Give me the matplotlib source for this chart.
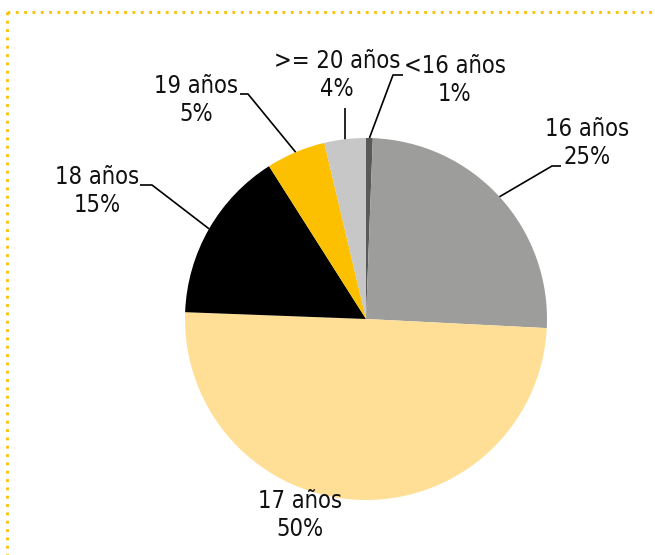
import matplotlib
matplotlib.use("Agg")
import matplotlib.pyplot as plt
import numpy as np

# slices, clockwise from 12 o'clock
labels = ["<16 años", "16 años", "17 años", "18 años", "19 años", ">= 20 años"]
shares = [0.6, 25.2, 49.8, 15.4, 5.3, 3.7]
colors = ["#595959", "#9d9d9b", "#ffdf95", "#000000", "#fcc000", "#c7c7c7"]

# label placement (pixel coords, y from top), elbow of leader line, and end of leader
text_pos = [(455, 80), (587, 143), (300, 515), (97, 191), (196, 100), (337, 75)]
elbows = [(393, 75), (552, 166), None, (152, 185), (248, 94), (345, 108)]
line_ends = [(403, 75), (561, 166), None, (140, 185), (240, 94), (345, 108)]

W, H = 655, 555
plt.rcParams['font.family'] = ['DejaVu Sans']
plt.rcParams['font.stretch'] = 'condensed'

fig = plt.figure(figsize=(W / 100, H / 100), dpi=100)
ax = fig.add_axes([0, 0, 1, 1])

cx, cy, r = 366, H - 319, 181
wedges, _ = ax.pie(shares, colors=colors, startangle=90, counterclock=False,
                   center=(cx, cy), radius=r, frame=True,
                   wedgeprops=dict(linewidth=0))
ax.set_xlim(0, W)
ax.set_ylim(0, H)
ax.set_aspect('equal')
ax.axis('off')

for i, w in enumerate(wedges):
    tx, ty = text_pos[i]
    ax.text(tx, H - ty, f"{labels[i]}\n{shares[i]:.0f}%", ha='center', va='center',
            fontsize=17, linespacing=1.2, color='#111111', fontstretch='condensed')
    if elbows[i] is None:
        continue
    # leader starts on the rim, at the middle of the wedge
    mid = np.deg2rad((w.theta1 + w.theta2) / 2)
    sx, sy = cx + r * np.cos(mid), cy + r * np.sin(mid)
    ex, ey = elbows[i]
    lx, ly = line_ends[i]
    ax.plot([sx, ex, lx], [sy, H - ey, H - ly], color='black', lw=1.2,
            solid_capstyle='butt')

# dotted frame along top and left edge
ax.plot([7, W], [H - 12, H - 12], color='#fcc000', lw=2, ls=(0, (1, 2)))
ax.plot([7, 7], [H - 12, 0], color='#fcc000', lw=2, ls=(0, (1, 2)))

fig.savefig("out.png", dpi=100)
